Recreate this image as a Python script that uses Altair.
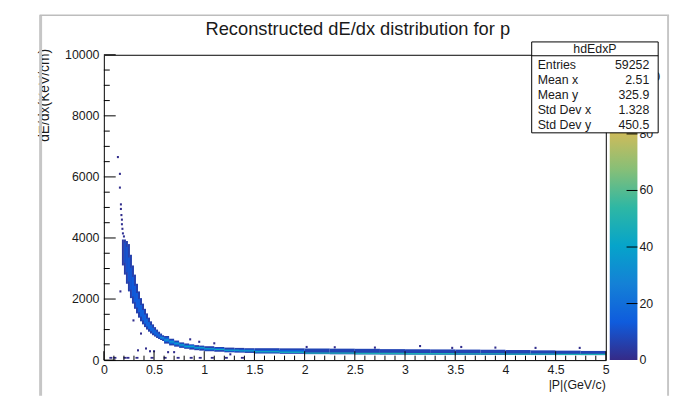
import altair as alt
import pandas as pd

FONT = "Liberation Sans"
INK = "#1a1a1a"

TITLE = "Reconstructed dE/dx distribution for p"
X_TITLE = "|P|(GeV/c)"
Y_TITLE = "dE/dx(KeV/cm)"
HIST_NAME = "hdEdxP"
STAT_LABELS = ["Entries", "Mean x", "Mean y", "Std Dev x", "Std Dev y"]
STAT_VALUES = ["59252", "2.51", "325.9", "1.328", "450.5"]

X_MAJOR = [0, 0.5, 1, 1.5, 2, 2.5, 3, 3.5, 4, 4.5, 5]
X_MINOR = [i / 10 for i in range(51) if i % 5]
Y_MAJOR = [0, 2000, 4000, 6000, 8000, 10000]
Y_MINOR = [v for v in range(0, 10001, 500) if v % 2000]
Z_TICKS = [0, 20, 40, 60, 80, 100]
Z_MAX = 108

# ROOT kBird palette
KBIRD = ["#352a87", "#0f5cdd", "#1481d6", "#06a4ca", "#2eb7a4",
         "#87bf77", "#d1bb59", "#fec832", "#f9fb0e"]

# band cells: (p_lo, p_hi, dEdx_lo, dEdx_hi, counts)
OUTER_CELLS = [
    (0.18, 0.20, 3100, 3950, 4), (0.20, 0.22, 2800, 3950, 5),
    (0.22, 0.24, 2500, 3900, 6), (0.24, 0.26, 2250, 3800, 6),
    (0.26, 0.28, 2030, 3450, 6), (0.28, 0.30, 1850, 3100, 6),
    (0.30, 0.32, 1680, 2800, 6), (0.32, 0.34, 1530, 2500, 6),
    (0.34, 0.36, 1390, 2250, 6), (0.36, 0.38, 1270, 2030, 6),
    (0.38, 0.40, 1170, 1850, 6), (0.40, 0.42, 1080, 1680, 6),
    (0.42, 0.44, 1000, 1530, 6), (0.44, 0.46, 930, 1390, 6),
    (0.46, 0.48, 870, 1270, 6), (0.48, 0.50, 815, 1170, 6),
    (0.50, 0.52, 770, 1080, 6), (0.52, 0.54, 725, 1000, 6),
    (0.54, 0.56, 690, 930, 6), (0.56, 0.58, 658, 870, 6),
    (0.58, 0.60, 626, 815, 6), (0.60, 0.65, 540, 790, 6),
    (0.65, 0.70, 480, 700, 6), (0.70, 0.75, 440, 640, 6),
    (0.75, 0.80, 400, 580, 6), (0.80, 0.85, 370, 545, 6),
    (0.85, 0.90, 345, 515, 6), (0.90, 0.95, 325, 490, 6),
    (0.95, 1.00, 310, 475, 6), (1.00, 1.10, 290, 455, 6),
    (1.10, 1.20, 270, 430, 6), (1.20, 1.30, 255, 410, 6),
    (1.30, 1.40, 245, 400, 6), (1.40, 1.50, 235, 390, 6),
    (1.50, 1.75, 215, 390, 7), (1.75, 2.00, 205, 385, 7),
    (2.00, 2.25, 195, 380, 7), (2.25, 2.50, 190, 375, 7),
    (2.50, 2.75, 185, 370, 7), (2.75, 3.00, 180, 360, 7),
    (3.00, 3.25, 178, 355, 7), (3.25, 3.50, 175, 350, 7),
    (3.50, 3.75, 172, 345, 7), (3.75, 4.00, 170, 340, 7),
    (4.00, 4.25, 168, 330, 7), (4.25, 4.50, 166, 320, 7),
    (4.50, 4.75, 165, 310, 7), (4.75, 5.00, 163, 300, 7),
]
MID_CELLS = [
    (0.20, 0.22, 3185, 3850, 10), (0.22, 0.24, 2875, 3710, 11),
    (0.24, 0.26, 2575, 3360, 12), (0.26, 0.28, 2310, 3025, 12),
    (0.28, 0.30, 2085, 2725, 13), (0.30, 0.32, 1895, 2435, 13),
    (0.32, 0.34, 1722, 2195, 14), (0.34, 0.36, 1567, 1995, 14),
    (0.36, 0.38, 1425, 1808, 15), (0.38, 0.40, 1300, 1640, 15),
    (0.40, 0.42, 1195, 1495, 16), (0.42, 0.44, 1102, 1360, 16),
    (0.44, 0.46, 1020, 1245, 16), (0.46, 0.48, 948, 1147, 16),
    (0.48, 0.50, 885, 1060, 16), (0.50, 0.52, 828, 982, 16),
    (0.52, 0.54, 780, 915, 16), (0.54, 0.56, 736, 856, 16),
    (0.56, 0.58, 698, 803, 16), (0.58, 0.60, 665, 758, 16),
    (0.60, 0.65, 590, 740, 16), (0.65, 0.70, 530, 660, 16),
    (0.70, 0.75, 485, 600, 16), (0.75, 0.80, 440, 540, 16),
    (0.80, 0.90, 400, 500, 16), (0.90, 1.00, 360, 440, 16),
    (1.00, 1.20, 320, 400, 16), (1.20, 1.50, 280, 350, 16),
    (1.50, 2.00, 245, 330, 15),
]
CORE_CELLS = [
    (0.56, 0.60, 700, 760, 28), (0.60, 0.65, 630, 690, 32),
    (0.65, 0.70, 570, 625, 34), (0.70, 0.75, 520, 570, 36),
    (0.75, 0.80, 475, 520, 38), (0.80, 0.90, 425, 470, 40),
    (0.90, 1.00, 385, 425, 42), (1.00, 1.10, 355, 390, 42),
    (1.10, 1.20, 330, 365, 44), (1.20, 1.35, 305, 340, 44),
    (1.35, 1.50, 285, 320, 44), (1.50, 1.75, 255, 295, 46),
    (1.75, 2.00, 235, 280, 46), (2.00, 2.50, 205, 250, 48),
    (2.50, 3.00, 195, 240, 48), (3.00, 3.50, 185, 230, 48),
    (3.50, 4.00, 180, 222, 48), (4.00, 4.50, 175, 218, 48),
    (4.50, 5.00, 170, 212, 48),
]
# isolated entries: (p, dEdx, counts)
SPARSE_POINTS = [
    (0.14, 6650, 1), (0.16, 6100, 1), (0.16, 5650, 1), (0.17, 5100, 1),
    (0.17, 4950, 1), (0.175, 4750, 1), (0.18, 4600, 1), (0.18, 4450, 2),
    (0.185, 4300, 1), (0.19, 4150, 2), (0.20, 4050, 2), (0.165, 2250, 1),
    (0.295, 1300, 1), (0.37, 870, 1), (0.34, 320, 1), (0.42, 380, 1),
    (0.46, 290, 1), (0.50, 290, 1), (0.64, 260, 1), (0.70, 260, 1),
    (0.86, 680, 1), (0.95, 600, 1), (1.10, 550, 1), (1.26, 190, 1),
    (2.02, 430, 1), (2.30, 420, 1), (2.70, 410, 1), (3.15, 460, 1),
    (3.47, 400, 1), (3.56, 430, 1), (3.90, 410, 1), (4.30, 400, 1),
    (4.74, 400, 1),
]
BOTTOM_ROW_P = [0.07, 0.11, 0.21, 0.24, 0.33, 0.48, 0.61, 0.74, 0.87, 0.96,
                1.08, 1.22, 1.38]
BOTTOM_ROW_DEDX = 75

rows = []
for c in OUTER_CELLS + MID_CELLS + CORE_CELLS:
    rows.append(c)
for p, d, n in SPARSE_POINTS:
    rows.append((p - 0.01, p + 0.01, d - 35, d + 35, n))
for p in BOTTOM_ROW_P:
    rows.append((p - 0.015, p + 0.015, BOTTOM_ROW_DEDX - 30, BOTTOM_ROW_DEDX + 30, 1))
cells = pd.DataFrame(rows, columns=["p_lo", "p_hi", "lo", "hi", "n"])

W, H = 508, 309
one = pd.DataFrame({"a": [0]})

xscale = alt.Scale(domain=[0, 5], nice=False, zero=False)
yscale = alt.Scale(domain=[0, 10000], nice=False, zero=False)
zscale = alt.Scale(domain=[0, Z_MAX], nice=False, zero=False)

xaxis = alt.Axis(values=X_MAJOR, format="~g", ticks=False, tickSize=0, domain=False,
                 grid=False, labelFont=FONT, labelFontSize=12.5, labelColor=INK,
                 labelPadding=10, labelBaseline="middle", labelFlush=False,
                 labelOverlap=False, title=None)
yaxis = alt.Axis(values=Y_MAJOR, format="d", ticks=False, tickSize=0, domain=False,
                 grid=False, labelFont=FONT, labelFontSize=12.5, labelColor=INK,
                 labelPadding=5, labelFlush=False, labelOverlap=False, title=None)

hist = alt.Chart(cells).mark_rect().encode(
    x=alt.X("p_lo:Q", scale=xscale, axis=xaxis),
    x2="p_hi:Q",
    y=alt.Y("lo:Q", scale=yscale, axis=yaxis),
    y2="hi:Q",
    color=alt.Color("n:Q", scale=alt.Scale(domain=[0, Z_MAX], range=KBIRD,
                                           interpolate="rgb"), legend=None),
)

xt_major = alt.Chart(pd.DataFrame({"v": X_MAJOR})).mark_rule(color="black").encode(
    x=alt.X("v:Q", scale=xscale, axis=xaxis), y=alt.value(H - 9), y2=alt.value(H))
xt_minor = alt.Chart(pd.DataFrame({"v": X_MINOR})).mark_rule(color="black").encode(
    x=alt.X("v:Q", scale=xscale, axis=xaxis), y=alt.value(H - 4.5), y2=alt.value(H))
yt_major = alt.Chart(pd.DataFrame({"v": Y_MAJOR})).mark_rule(color="black").encode(
    y=alt.Y("v:Q", scale=yscale, axis=None), x=alt.value(0), x2=alt.value(12))
yt_minor = alt.Chart(pd.DataFrame({"v": Y_MINOR})).mark_rule(color="black").encode(
    y=alt.Y("v:Q", scale=yscale, axis=None), x=alt.value(0), x2=alt.value(6))

gradient = {
    "gradient": "linear", "x1": 0, "x2": 0, "y1": 1, "y2": 0,
    "stops": [{"offset": i / 8, "color": c} for i, c in enumerate(KBIRD)],
}
cbar = alt.Chart(one).mark_rect(fill=gradient).encode(
    x=alt.value(512), x2=alt.value(540), y=alt.value(0), y2=alt.value(H))
cbar_ticks = alt.Chart(pd.DataFrame({"z": Z_TICKS[1:]})).mark_rule(color="black").encode(
    y=alt.Y("z:Q", scale=zscale, axis=None), x=alt.value(529), x2=alt.value(540))
cbar_labels = alt.Chart(pd.DataFrame({"z": Z_TICKS})).mark_text(
    align="left", baseline="middle", font=FONT, fontSize=12.5, color=INK).encode(
    y=alt.Y("z:Q", scale=zscale, axis=None), x=alt.value(542), text="z:Q")

box = alt.Chart(one).mark_rect(fill="white", stroke="black", strokeWidth=1).encode(
    x=alt.value(433), x2=alt.value(561), y=alt.value(-13), y2=alt.value(79))
box_line = alt.Chart(one).mark_rule(color="black").encode(
    x=alt.value(433), x2=alt.value(561), y=alt.value(1))
box_head = alt.Chart(one).mark_text(
    align="center", baseline="middle", font=FONT, fontSize=12.5, color=INK).encode(
    x=alt.value(497), y=alt.value(-6), text=alt.value(HIST_NAME))
stats = pd.DataFrame({"label": STAT_LABELS, "value": STAT_VALUES,
                      "row": list(range(len(STAT_LABELS)))})
rowscale = alt.Scale(domain=[0, 4], range=[10, 71])
stat_l = alt.Chart(stats).mark_text(
    align="left", baseline="middle", font=FONT, fontSize=12.5, color=INK).encode(
    x=alt.value(439), y=alt.Y("row:Q", scale=rowscale, axis=None), text="label:N")
stat_r = alt.Chart(stats).mark_text(
    align="right", baseline="middle", font=FONT, fontSize=12.5, color=INK).encode(
    x=alt.value(552), y=alt.Y("row:Q", scale=rowscale, axis=None), text="value:N")

title = alt.Chart(one).mark_text(
    align="center", baseline="middle", font=FONT, fontSize=18.5, color=INK).encode(
    x=alt.value(257), y=alt.value(-26), text=alt.value(TITLE))
ytitle = alt.Chart(one).mark_text(
    align="right", baseline="middle", angle=270, font=FONT, fontSize=14, color=INK).encode(
    x=alt.value(-60), y=alt.value(-6), text=alt.value(Y_TITLE))
xtitle = alt.Chart(one).mark_text(
    align="right", baseline="middle", font=FONT, fontSize=12.5, color=INK).encode(
    x=alt.value(W), y=alt.value(334), text=alt.value(X_TITLE))

b_left = alt.Chart(one).mark_rule(color="#c6c6c6", strokeWidth=3).encode(
    x=alt.value(-64), y=alt.value(-40), y2=alt.value(345))
b_top = alt.Chart(one).mark_rule(color="#bdbdbd", strokeWidth=1.5).encode(
    x=alt.value(-65), x2=alt.value(572), y=alt.value(-40))
b_right = alt.Chart(one).mark_rule(color="#c6c6c6", strokeWidth=2).encode(
    x=alt.value(571), y=alt.value(-40), y2=alt.value(345))

chart = alt.layer(
    hist, xt_major, xt_minor, yt_major, yt_minor,
    cbar, cbar_ticks, cbar_labels,
    box, box_line, box_head, stat_l, stat_r,
    title, ytitle, xtitle, b_left, b_top, b_right,
).resolve_scale(y="independent").properties(
    width=W, height=H,
    autosize=alt.AutoSizeParams(type="none"),
    padding={"left": 97, "top": 45, "right": 68, "bottom": 35},
    background="white",
).configure_view(stroke="black", strokeWidth=1)

chart.save("out.html", embed_options={"renderer": "svg", "actions": False})
